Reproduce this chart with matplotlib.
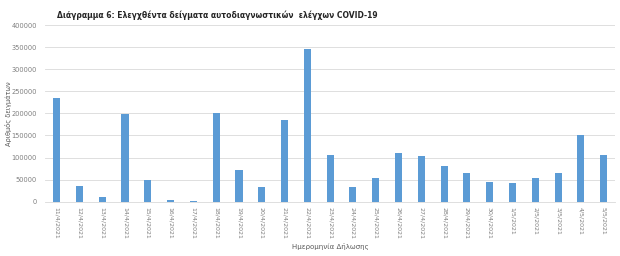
import matplotlib
matplotlib.use('Agg')
import matplotlib.pyplot as plt
import numpy as np

# === Data ===
dates = ['11/4/2021', '12/4/2021', '13/4/2021', '14/4/2021', '15/4/2021', '16/4/2021',
         '17/4/2021', '18/4/2021', '19/4/2021', '20/4/2021', '21/4/2021', '22/4/2021',
         '23/4/2021', '24/4/2021', '25/4/2021', '26/4/2021', '27/4/2021', '28/4/2021',
         '29/4/2021', '30/4/2021', '1/5/2021', '2/5/2021', '3/5/2021', '4/5/2021', '5/5/2021']
samples = [235000, 36000, 10000, 198000, 49000, 3500, 1500, 201000, 72000, 34000,
           186000, 346000, 106000, 34000, 54500, 110000, 104500, 81000, 64500, 44000,
           42000, 54500, 65000, 152000, 106000]
yticks = [0, 50000, 100000, 150000, 200000, 250000, 300000, 350000, 400000]

# === Plot ===
fig = plt.figure(figsize=(6.2, 2.56), dpi=100)
ax = fig.add_axes([0.073, 0.212, 0.919, 0.690])

x = np.arange(len(dates))
ax.bar(x, samples, width=0.31, color='#5B9BD5', zorder=3)

ax.set_xlim(-0.5, len(dates) - 0.5)
ax.set_ylim(0, 400000)
ax.set_yticks(yticks)
ax.set_yticklabels([str(v) for v in yticks], fontsize=4.8, color='#7f7f7f')
ax.set_xticks(x)
ax.set_xticklabels(dates, rotation=270, fontsize=4.5, color='#7f7f7f')
ax.tick_params(axis='y', length=0, pad=6)
ax.tick_params(axis='x', length=0, pad=4)
ax.grid(axis='y', color='#d9d9d9', lw=0.6, zorder=0)
for s in ['top', 'right', 'left']:
    ax.spines[s].set_visible(False)
ax.spines['bottom'].set_color('#d9d9d9')
ax.spines['bottom'].set_linewidth(0.6)

ax.set_ylabel('Αριθμός δειγμάτων', fontsize=4.8, color='#595959')
ax.yaxis.set_label_coords(12 / 570 - 45 / 570, 0.5)
ax.set_xlabel('Ημερομηνία Δήλωσης', fontsize=5, color='#595959')
ax.xaxis.set_label_coords(0.5, -(243 - 201.7) / 176.7)

fig.text(0.092, 0.94, 'Διάγραμμα 6: Ελεγχθέντα δείγματα αυτοδιαγνωστικών  ελέγχων COVID-19',
         fontsize=5.5, fontweight='bold', color='#262626', va='center', ha='left')

plt.savefig('out.png', dpi=100)
